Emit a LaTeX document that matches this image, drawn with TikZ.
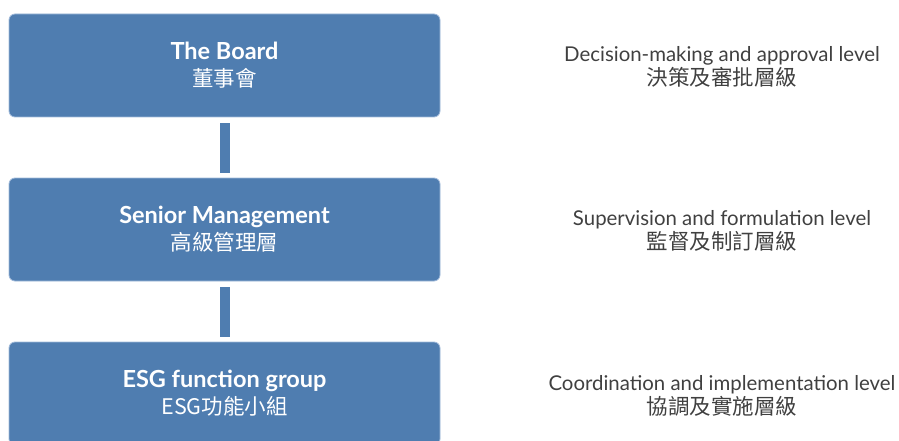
\documentclass[tikz,border=0pt]{standalone}
\usepackage{fontspec}
\setmainfont{Lato}
\newfontfamily\cjkfont{Noto Sans CJK TC}
\definecolor{boxblue}{RGB}{79,125,176}
\definecolor{boxedge}{RGB}{160,186,218}
\definecolor{notegray}{RGB}{64,64,64}
\newcommand{\boxcjk}[1]{{\fontsize{21.5}{27}\selectfont\mdseries\cjkfont #1}}
\newcommand{\notecjk}[1]{{\fontsize{21.5}{24}\selectfont\cjkfont #1}}
\begin{document}
\begin{tikzpicture}[x=1pt,y=-1pt,
  levelbox/.style={rectangle, rounded corners=6pt, fill=boxblue, draw=boxedge,
    line width=0.8pt, minimum width=431pt, minimum height=103pt,
    text=white, align=center, inner sep=0pt,
    font=\fontsize{23.5}{27}\selectfont\bfseries},
  note/.style={text=notegray, align=center, inner sep=0pt,
    font=\fontsize{20.4}{24}\selectfont},
  link/.style={draw=boxblue, line width=10pt, shorten >=5pt, shorten <=6pt}]
\useasboundingbox (0,0) rectangle (899,441);
\clip (0,0) rectangle (899,441);

\node[levelbox] (board) at (224.5,65.5) {The Board\\ \boxcjk{董事會}};
\node[levelbox] (senior) at (224.5,229.5) {Senior Management\\ \boxcjk{高級管理層}};
\node[levelbox] (esg) at (224.5,393.5) {ESG function group\\ \boxcjk{ESG功能小組}};

\draw[link] (board) -- (senior);
\draw[link] (senior) -- (esg);

\node[note] (n1) at (722,66.5)
  {Decision-making and approval level\\ \notecjk{決策及審批層級}};
\node[note] (n2) at (722,230.5)
  {Supervision and formulation level\\ \notecjk{監督及制訂層級}};
\node[note] (n3) at (722,396)
  {Coordination and implementation level\\ \notecjk{協調及實施層級}};
\end{tikzpicture}
\end{document}
